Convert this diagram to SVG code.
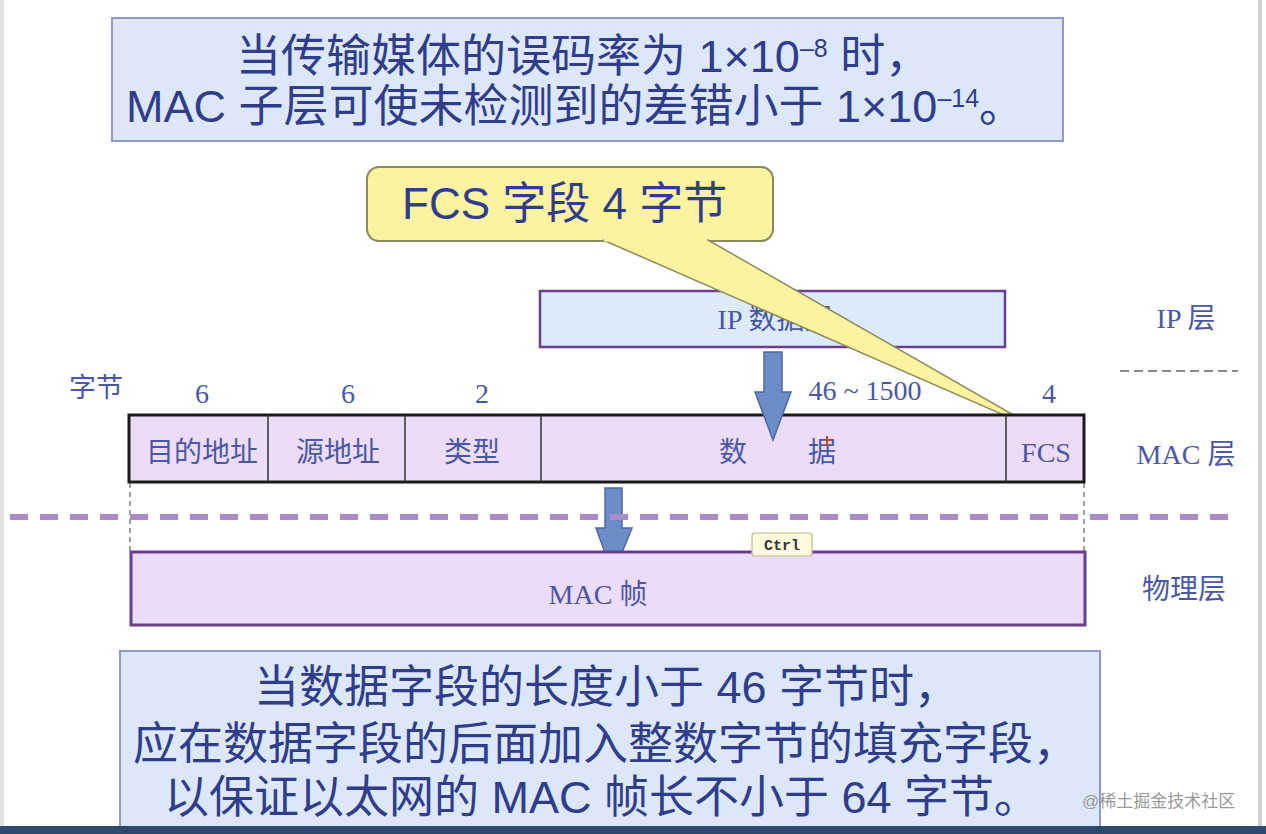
<svg xmlns="http://www.w3.org/2000/svg" width="1266" height="834" viewBox="0 0 1266 834">
<defs>
<style>
.big{font-family:"Liberation Sans","Noto Sans CJK SC",sans-serif;font-size:45px;fill:#2f3d8c;}
.lbl{font-family:"Liberation Serif","Noto Sans CJK SC",serif;font-size:27px;fill:#4a58a4;}
.fld{font-family:"Liberation Serif","Noto Sans CJK SC",serif;font-size:28px;fill:#4a58a4;text-anchor:middle;}
.note{fill:#dde7fa;stroke:#8e99cf;stroke-width:2;}
.arrow{fill:#6c8dc8;stroke:#4b6aa6;stroke-width:1.5;}
</style>
</defs>
<rect width="1266" height="834" fill="#ffffff"/>
<rect x="0" y="0" width="4" height="834" fill="#e2e2e2"/>
<rect x="1258" y="0" width="4" height="834" fill="#cfcfcf"/>

<g id="top-note">
<rect class="note" x="112" y="18" width="951" height="123"/>
<text class="big" x="236" y="72">当传输媒体的误码率为 1×10<tspan font-size="25" dy="-15">–8</tspan><tspan dy="15"> 时，</tspan></text>
<text class="big" x="126" y="122">MAC 子层可使未检测到的差错小于 1×10<tspan font-size="25" dy="-15">–14</tspan><tspan dy="15">。</tspan></text>
</g>

<g id="ip-datagram">
<rect x="540" y="291" width="465" height="56" fill="#dceafa" stroke="#6b3f8e" stroke-width="2.5"/>
<text class="fld" x="775" y="329" font-size="26">IP 数据报</text>
</g>

<g id="callout">
<rect x="367" y="167" width="406" height="74" rx="12" fill="#fbf39f" stroke="#8c8a5c" stroke-width="2"/>
<polygon points="603,240 708,240 1045,433" fill="#fbf39f" stroke="#8c8a5c" stroke-width="1.5"/>
<line x1="604" y1="240" x2="707" y2="240" stroke="#fbf39f" stroke-width="3"/>
<text x="402" y="219" font-family="'Liberation Sans','Noto Sans CJK SC',sans-serif" font-size="44" fill="#2f3d8c">FCS 字段 4 字节</text>
</g>

<g id="byte-labels">
<text class="lbl" x="69" y="397">字节</text>
<text class="fld" x="202" y="403">6</text>
<text class="fld" x="348" y="403">6</text>
<text class="fld" x="482" y="403">2</text>
<text class="fld" x="865" y="400">46 ~ 1500</text>
<text class="fld" x="1049" y="403">4</text>
</g>

<g id="mac-frame">
<rect x="129" y="415" width="955" height="67" fill="#ecdcf8" stroke="#1a1a1a" stroke-width="3"/>
<g stroke="#333" stroke-width="1.5">
<line x1="268" y1="415" x2="268" y2="482"/>
<line x1="405" y1="415" x2="405" y2="482"/>
<line x1="541" y1="415" x2="541" y2="482"/>
<line x1="1006" y1="415" x2="1006" y2="482"/>
</g>
<text class="fld" x="202" y="462">目的地址</text>
<text class="fld" x="338" y="462">源地址</text>
<text class="fld" x="472" y="462">类型</text>
<text class="fld" x="733" y="462">数</text>
<text class="fld" x="822" y="462">据</text>
<text class="fld" x="1046" y="462">FCS</text>
<path d="M826,436 l2,0 l0,3 l3,0 l0,2 l-3,0 l0,5 l-2,0 z" fill="#d04020"/>
</g>

<g id="connectors">
<polygon class="arrow" points="764,352 782,352 782,392 791,392 773,440 755,392 764,392"/>
<polygon class="arrow" points="605,488 622,488 622,528 632,528 613,575 596,528 605,528"/>
<line x1="130" y1="483" x2="130" y2="551" stroke="#444" stroke-width="1" stroke-dasharray="5,4"/>
<line x1="1084" y1="483" x2="1084" y2="551" stroke="#444" stroke-width="1" stroke-dasharray="5,4"/>
<line x1="10" y1="517" x2="1240" y2="517" stroke="#a98bcb" stroke-width="6" stroke-dasharray="18,12"/>
<line x1="1120" y1="371" x2="1238" y2="371" stroke="#8a8a8a" stroke-width="2" stroke-dasharray="9,5"/>
</g>

<g id="mac-frame-phys">
<rect x="131" y="552" width="954" height="73" fill="#eadcfa" stroke="#6b3f8e" stroke-width="3"/>
<text class="fld" x="598" y="604">MAC 帧</text>
</g>

<g id="ctrl-tip">
<rect x="752" y="533" width="60" height="23" rx="3" fill="#fcf9dc" stroke="#c2b98a" stroke-width="1.2"/>
<text x="782" y="550" font-family="'Liberation Mono',monospace" font-size="15" font-weight="bold" fill="#333" text-anchor="middle">Ctrl</text>
</g>

<g id="layer-labels">
<text class="fld" x="1186" y="328">IP 层</text>
<text class="fld" x="1186" y="464">MAC 层</text>
<text class="fld" x="1184" y="599">物理层</text>
</g>

<g id="bottom-note">
<rect class="note" x="120" y="651" width="980" height="190"/>
<text class="big" x="254" y="703">当数据字段的长度小于 46 字节时，</text>
<text class="big" x="133" y="760">应在数据字段的后面加入整数字节的填充字段，</text>
<text class="big" x="164" y="813">以保证以太网的 MAC 帧长不小于 64 字节。</text>
</g>

<text x="1082" y="807" font-family="'Liberation Sans','Noto Sans CJK SC',sans-serif" font-size="17" fill="#9a9a9a">@稀土掘金技术社区</text>
<rect x="0" y="826" width="1266" height="8" fill="#2d4a6e"/>
</svg>
